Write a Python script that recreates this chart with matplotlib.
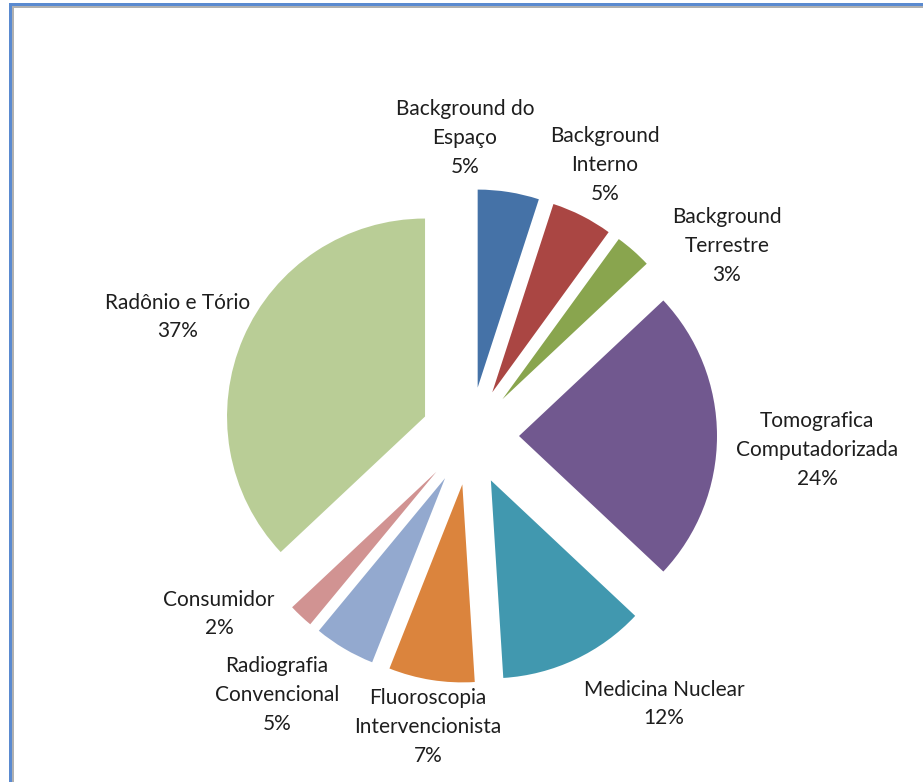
import matplotlib.pyplot as plt
from matplotlib.patches import Rectangle

# doses por fonte de radiação (%)
categorias = ['Background do\nEspaço', 'Background\nInterno', 'Background\nTerrestre',
              'Tomografica\nComputadorizada', 'Medicina Nuclear', 'Fluoroscopia\nIntervencionista',
              'Radiografia\nConvencional', 'Consumidor', 'Radônio e Tório']
valores = [5, 5, 3, 24, 12, 7, 5, 2, 37]
cores = ['#4572A7', '#AA4643', '#89A54E', '#71588F', '#4198AF',
         '#DB843D', '#93A9CF', '#D19392', '#B9CD96']

W, H = 923, 782
cx, cy, r_px = 470, 436, 198  # centro e raio em pixels

# posição (pixels) do centro de cada rótulo
pos_rotulos = [(465, 138), (605, 165), (727, 246), (817, 450), (664, 704),
               (428, 727), (277, 695), (219, 614), (178, 317)]

plt.rcParams['font.family'] = ['Lato', 'DejaVu Sans']

fig = plt.figure(figsize=(W / 100, H / 100), dpi=100)
ax = fig.add_axes([0, 0, 1, 1])

ax.pie(valores, colors=cores, startangle=90, counterclock=False,
       explode=[49 / r_px] * len(valores), radius=1.0,
       wedgeprops={'linewidth': 0})

ax.set_xlim(-cx / r_px, (W - cx) / r_px)
ax.set_ylim(-(H - cy) / r_px, cy / r_px)
ax.set_aspect('auto')
ax.axis('off')

for nome, v, (px, py) in zip(categorias, valores, pos_rotulos):
    ax.text((px - cx) / r_px, (cy - py) / r_px, f'{nome}\n{v}%',
            ha='center', va='center', fontsize=15, color='#1e1e1e',
            linespacing=1.55)

# moldura (só aparecem as bordas esquerda e superior)
fig.add_artist(Rectangle((9 / W, 0), 3 / W, 1 - 3 / H, transform=fig.transFigure,
                         color='#5a8ad0', lw=0))
fig.add_artist(Rectangle((9 / W, 1 - 6 / H), 1, 3 / H, transform=fig.transFigure,
                         color='#5a8ad0', lw=0))
fig.add_artist(Rectangle((12 / W, 0), 1.5 / W, 1 - 6 / H, transform=fig.transFigure,
                         color='#b0b0b0', lw=0))
fig.add_artist(Rectangle((12 / W, 1 - 8 / H), 1, 2 / H, transform=fig.transFigure,
                         color='#b0b0b0', lw=0))

fig.savefig('out.png', dpi=100)
